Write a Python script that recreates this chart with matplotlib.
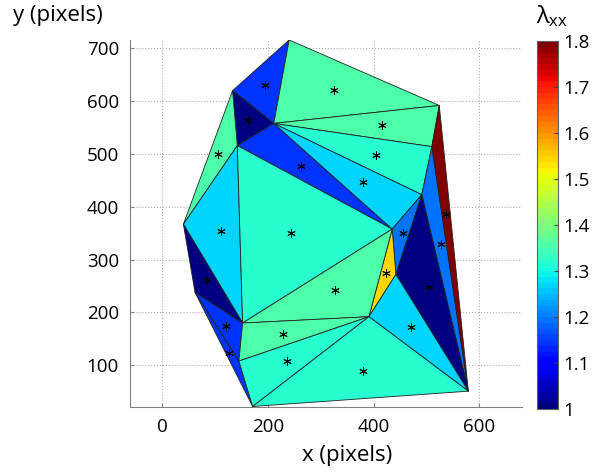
import numpy as np
import matplotlib
matplotlib.use("Agg")
import matplotlib.pyplot as plt
import matplotlib.tri as mtri

plt.rcParams['font.family'] = ['Open Sans', 'DejaVu Sans']

# mesh nodes (x, y in pixels)
node_x = [240, 133, 524, 211, 142, 510, 491, 40, 435, 442, 391, 152, 145, 171, 579, 62]
node_y = [716, 620, 592, 558, 516, 514, 423, 367, 358, 272, 192, 180, 108, 22, 51, 238]
#          A    B    C    D    E    F    G    H    I    J    K    L    M    N   O    P

# triangles (node indices)
tris = [
    [0, 1, 3],    # A B D
    [0, 3, 2],    # A D C
    [1, 4, 3],    # B E D
    [3, 2, 5],    # D C F
    [1, 7, 4],    # B H E
    [3, 5, 6],    # D F G
    [3, 4, 8],    # D E I
    [3, 6, 8],    # D G I
    [7, 4, 11],   # H E L
    [4, 8, 11],   # E I L
    [8, 6, 9],    # I G J
    [5, 14, 6],   # F O G
    [2, 5, 14],   # C F O
    [8, 9, 10],   # I J K
    [6, 14, 9],   # G O J
    [8, 10, 11],  # I K L
    [7, 15, 11],  # H P L
    [15, 11, 12], # P L M
    [15, 12, 13], # P M N
    [11, 10, 12], # L K M
    [10, 9, 14],  # K J O
    [12, 10, 13], # M K N
    [10, 14, 13], # K O N
]

# lambda_xx per triangle
lam = [1.15, 1.36, 1.0, 1.35, 1.36, 1.315, 1.15, 1.27, 1.27, 1.315, 1.2, 1.2,
       1.8, 1.54, 1.0, 1.36, 1.01, 1.14, 1.15, 1.36, 1.27, 1.315, 1.315]

tri = mtri.Triangulation(node_x, node_y, tris)
cmap = plt.get_cmap('jet', 64)

fig = plt.figure(figsize=(5.92, 4.73), dpi=100)
ax = fig.add_axes([0.2196, 0.1395, 0.6617, 0.776])

pc = ax.tripcolor(tri, facecolors=np.array(lam), cmap=cmap, vmin=1, vmax=1.8,
                  edgecolors='#202020', linewidth=0.6)

# centroids
cx = np.array(node_x)[np.array(tris)].mean(axis=1)
cy = np.array(node_y)[np.array(tris)].mean(axis=1)
ax.plot(cx, cy, linestyle='none', marker=(6, 2, 0), color='k', markersize=6, markeredgewidth=0.7)

ax.set_xlim(-61, 680)
ax.set_ylim(21, 716)
ax.set_xticks([0, 200, 400, 600])
ax.set_yticks([100, 200, 300, 400, 500, 600, 700])
ax.grid(True, linestyle=':', color='#b0b0b0', linewidth=0.8)
ax.set_axisbelow(True)
for s in ['top', 'right']:
    ax.spines[s].set_visible(False)
for s in ['left', 'bottom']:
    ax.spines[s].set_color('#808080')
ax.tick_params(direction='in', length=3, color='#808080', labelsize=13.5, pad=8)

fig.text(0.022, 0.968, 'y (pixels)', fontsize=16, va='center', ha='left')
fig.text(0.586, 0.036, 'x (pixels)', fontsize=16, va='center', ha='center')

cax = fig.add_axes([0.9076, 0.1353, 0.0355, 0.778])
cb = fig.colorbar(pc, cax=cax, ticks=[1, 1.1, 1.2, 1.3, 1.4, 1.5, 1.6, 1.7, 1.8])
cb.ax.set_yticklabels(['1', '1.1', '1.2', '1.3', '1.4', '1.5', '1.6', '1.7', '1.8'])
cb.ax.tick_params(direction='in', length=3, color='#404040', labelsize=13.5)
cb.outline.set_edgecolor('#606060')
fig.text(0.905, 0.965, r'$\mathregular{\lambda_{xx}}$', fontsize=17, va='center', ha='left')

fig.savefig('out.png', dpi=100)
